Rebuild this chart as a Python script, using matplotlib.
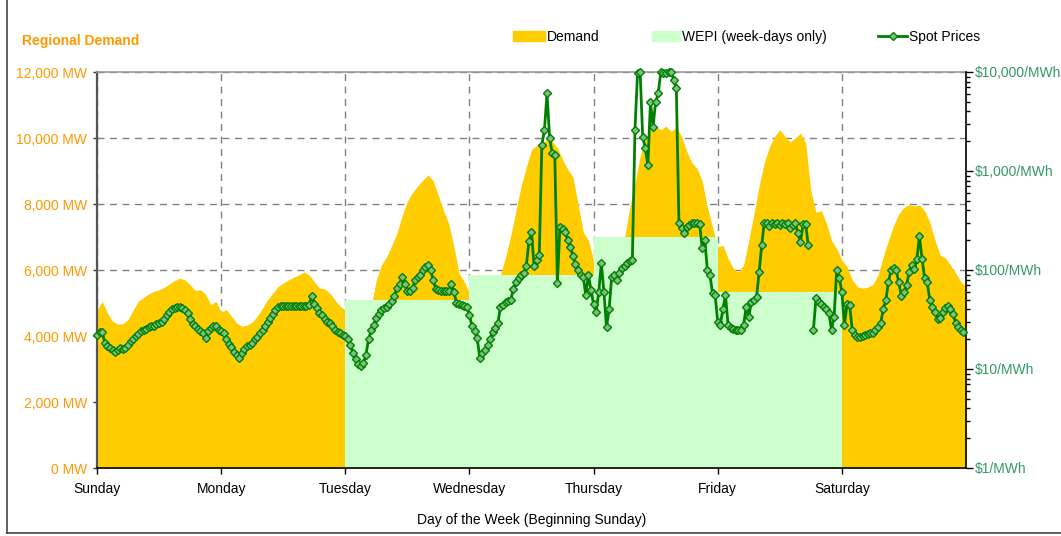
import numpy as np
import matplotlib.pyplot as plt
from matplotlib.patches import Patch
from matplotlib.lines import Line2D
from matplotlib.ticker import FixedLocator, LogLocator, NullFormatter

plt.rcParams['font.family'] = ['Liberation Sans', 'DejaVu Sans']

days = ['Sunday', 'Monday', 'Tuesday', 'Wednesday', 'Thursday', 'Friday', 'Saturday']

# hourly regional demand (MW)
demand_sun = [4780, 5050, 4700, 4450, 4360, 4370, 4500, 4790, 5050, 5170, 5280, 5350,
              5400, 5470, 5580, 5680, 5750, 5700, 5550, 5380, 5400, 5260, 4950, 5050]
demand_mon = [4720, 4800, 4600, 4390, 4300, 4330, 4420, 4600, 4850, 5100, 5300, 5500,
              5600, 5700, 5780, 5850, 5940, 5850, 5650, 5450, 5430, 5300, 5090, 4900]
demand_tue = [4800, 4600, 4500, 4500, 4600, 4900, 5700, 6150, 6400, 6750, 7120, 7650,
              8080, 8350, 8550, 8720, 8880, 8700, 8250, 7800, 7400, 6700, 5900, 5650]
demand_wed = [5300, 5000, 4900, 4850, 4900, 5300, 5850, 6400, 7050, 7800, 8550, 9120,
              9650, 9780, 9850, 9940, 9900, 9700, 9350, 9050, 8820, 8000, 7150, 6900]
demand_thu = [6300, 6000, 5900, 5950, 6200, 6700, 7000, 7900, 8650, 9450, 9950, 10200,
              10380, 10250, 10360, 10200, 10330, 10050, 9600, 9250, 9080, 8700, 7900, 7300]
demand_fri = [6700, 6750, 6350, 6050, 5940, 6150, 6900, 7700, 8550, 9250, 9730, 10050,
              10250, 10050, 9880, 10000, 10150, 9850, 8400, 7750, 7800, 7420, 6900, 6650]
demand_sat = [6300, 6100, 5700, 5500, 5450, 5480, 5560, 5850, 6400, 6900, 7350, 7700,
              7900, 7980, 7940, 7970, 7800, 7450, 6900, 6450, 6370, 6150, 5900, 5650]
demand_end = 5500

# half-hourly spot prices ($/MWh), nan = missing interval
spot_sun = [22, 23.5, 23.6, 18.5, 17.2, 16.3, 15.5, 14.9, 15.5, 16.3, 16, 16.3,
            17.5, 19, 20.3, 21.5, 22.5, 24, 24.8, 25.5, 26.3, 27, 27.5, 28.5,
            29, 29.9, 32, 35, 37.5, 40, 41, 42, 42, 41, 39, 36.7,
            32, 28.5, 27, 25.5, 24, 23, 20.5, 24, 26, 27.5, 27, 24.8]
spot_mon = [24, 23, 20, 18, 16.5, 15, 14, 13, 14.5, 16, 17, 17.5,
            18.5, 20, 21, 23, 24.8, 27, 30, 33, 36, 39, 42, 43,
            43, 43.5, 43, 43, 43.5, 43, 43, 43.5, 43, 43, 44, 55,
            45, 41, 37, 35, 32, 30, 29, 27, 25, 23.5, 23, 22]
spot_tue = [21.5, 20, 17.5, 14.5, 12.5, 11.3, 10.6, 11.5, 14, 20, 24.5, 28,
            33, 36, 39.4, 41, 42, 45, 49, 55, 66, 72, 85, 72,
            62, 62, 66, 79, 85, 90, 100, 108, 112, 100, 79, 65,
            63, 62, 62, 61, 62, 72, 60, 46.5, 45, 44, 43, 42]
spot_wed = [35, 27, 24, 20.5, 13, 14.5, 15.6, 17.5, 20, 23.6, 26, 29,
            42, 44, 47, 48.5, 50, 65, 75, 83, 88, 94, 110, 195,
            240, 110, 125, 141, 1830, 2600, 6100, 2150, 1520, 1450, 74, 270,
            260, 240, 200, 170, 140, 115, 100, 90, 85, 56, 89, 63]
spot_thu = [45, 37.6, 60, 117, 60, 26.6, 40, 85, 90, 79, 93, 105,
            110, 117, 122, 126, 2600, 9800, 10000, 2200, 1700, 1150, 5000, 2800,
            5000, 6100, 10000, 9700, 9800, 10000, 10000, 8300, 6900, 300, 265, 236,
            270, 285, 300, 300, 295, 290, 167, 201, 100, 89, 58, 56]
spot_fri = [30, 28, 40, 56, 27.8, 26, 25.5, 24.8, 24.5, 25, 27.8, 42,
            33.5, 47.5, 50, 53, 95, 178, 300, 295, 280, 300, 290, 300,
            285, 295, 290, 300, 265, 285, 295, 236, 192, 290, 290, 178,
            np.nan, 24.8, 52, 48, 45, 42, 40, 36.7, 24.8, 33.5, 100, 83]
spot_sat = [60, 28, 45, 44, 25, 22, 21, 21, 21.5, 22, 22.5, 23,
            23, 25, 26.6, 29, 40, 50, 75, 100, 105, 100, 75, 55,
            60, 70, 95, 112, 102, 130, 220, 130, 83, 75, 50, 42,
            38, 32, 33, 38, 41, 43, 40, 36, 29, 26.6, 25, 23.5]

# WEPI levels for week-days shown (day index where the block starts)
wepi_day = [2, 3, 4, 5]
wepi_mw = [5100, 5850, 7000, 5330]

demand = demand_sun + demand_mon + demand_tue + demand_wed + demand_thu + demand_fri + demand_sat + [demand_end]
spot = spot_sun + spot_mon + spot_tue + spot_wed + spot_thu + spot_fri + spot_sat

demand_x = np.arange(len(demand)) / 24
spot_x = np.arange(len(spot)) / 48

orange = '#FF9900'
green_txt = '#339966'
gold = '#FFCC00'
wepi_col = '#CCFFCC'
line_green = '#008000'

fig = plt.figure(figsize=(10.61, 5.36), dpi=100)
ax = fig.add_axes([97 / 1061, 1 - 468 / 536, (966 - 97) / 1061, (468 - 72) / 536])

ax.fill_between(demand_x, 0, demand, color=gold, lw=0, zorder=1)
ax.bar(wepi_day, wepi_mw, width=1, align='edge', color=wepi_col, lw=0, zorder=2)

ax.set_xlim(0, 7)
ax.set_ylim(0, 12000)
ax.set_xticks(range(7))
ax.set_xticklabels(days, fontsize=10)
ax.set_yticks(range(0, 12001, 2000))
ax.set_yticklabels([f'{v:,} MW' for v in range(0, 12001, 2000)], color=orange, fontsize=10)
ax.set_axisbelow(True)
ax.grid(True, ls=(0, (5, 4)), color='#808080', lw=1)
ax.tick_params(axis='y', length=3, width=1, color='#333333', pad=4)
ax.tick_params(axis='x', length=4, width=1, pad=6)
ax.set_xlabel('Day of the Week (Beginning Sunday)', fontsize=10, labelpad=12)

ax.spines['left'].set_color('#555555')
ax.spines['left'].set_linewidth(1.6)
ax.spines['top'].set_color('#999999')
ax.spines['top'].set_linewidth(1.2)
ax.spines['bottom'].set_linewidth(1.2)
ax.spines['right'].set_visible(False)

ax2 = ax.twinx()
ax2.set_yscale('log')
ax2.set_ylim(1, 10000)
ax2.plot(spot_x, spot, color=line_green, lw=2, marker='D', ms=4,
         mfc='#7fbf7f', mec=line_green, mew=1, clip_on=False, zorder=5)
ax2.yaxis.set_major_locator(FixedLocator([1, 10, 100, 1000, 10000]))
ax2.set_yticklabels(['$1/MWh', '$10/MWh', '$100/MWh', '$1,000/MWh', '$10,000/MWh'],
                    color=green_txt, fontsize=10)
ax2.yaxis.set_minor_locator(LogLocator(base=10, subs=np.arange(2, 10)))
ax2.yaxis.set_minor_formatter(NullFormatter())
ax2.tick_params(axis='y', which='major', length=5, width=1, pad=1.5)
ax2.tick_params(axis='y', which='minor', length=3, width=1)
for s in ['left', 'top', 'bottom']:
    ax2.spines[s].set_visible(False)
ax2.spines['right'].set_linewidth(1.2)

fig.text(22 / 1061, 1 - 41 / 536, 'Regional Demand', color=orange, fontsize=10,
         fontweight='bold', va='center')

leg_kw = dict(frameon=False, fontsize=10, loc='center left', handletextpad=0.15,
              borderpad=0, borderaxespad=0)
fig.legend([Patch(color=gold)], ['Demand'], bbox_to_anchor=(513 / 1061, 1 - 37 / 536),
           handlelength=2.3, **leg_kw)
fig.legend([Patch(color=wepi_col)], ['WEPI (week-days only)'],
           bbox_to_anchor=(652 / 1061, 1 - 37 / 536), handlelength=2.0, **leg_kw)
fig.legend([Line2D([], [], color=line_green, lw=2, marker='D', ms=4, mfc='#7fbf7f',
                   mec=line_green)], ['Spot Prices'],
           bbox_to_anchor=(878 / 1061, 1 - 37 / 536), handlelength=2.1, **leg_kw)

# outer frame of the chart
fig.add_artist(plt.Line2D([6.5 / 1061, 6.5 / 1061], [3 / 536, 1], color='#444444', lw=1.2))
fig.add_artist(plt.Line2D([6.5 / 1061, 1], [3 / 536, 3 / 536], color='#444444', lw=1.2))

fig.savefig('out.png', dpi=100)
